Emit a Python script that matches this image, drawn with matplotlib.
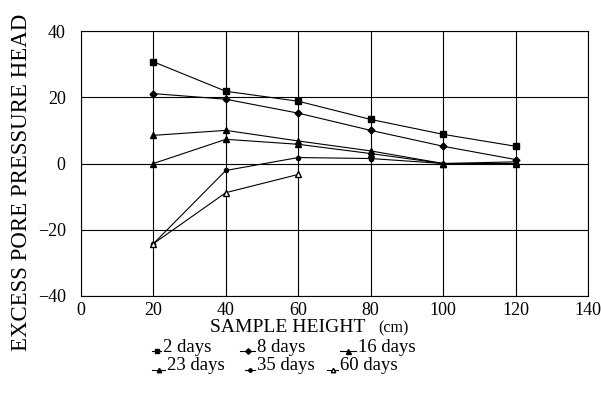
import matplotlib
matplotlib.use("Agg")
import matplotlib.pyplot as plt
from matplotlib.lines import Line2D

plt.rcParams['font.family'] = ['Liberation Serif', 'DejaVu Serif']

heights = [20, 40, 60, 80, 100, 120]
labels = ["2 days", "8 days", "16 days", "23 days", "35 days", "60 days"]
d2 = [30.7, 21.8, 18.8, 13.3, 8.8, 5.2]
d8 = [21.1, 19.4, 15.2, 10.0, 5.2, 1.2]
d16 = [8.5, 10.0, 6.8, 3.8, 0.0, 0.5]
d23 = [0.0, 7.3, 5.8, 3.0, 0.0, 0.0]
d35 = [-24.2, -2.1, 1.8, 1.5, 0.0]
d60 = [-24.2, -8.8, -3.3]

series = [d2, d8, d16, d23, d35, d60]
markers = ['s', 'D', '^', '^', 'o', '^']
sizes = [4, 3.5, 4.5, 4, 3, 4]
fills = ['black', 'black', 'black', 'black', 'black', 'white']

W, H = 601, 396
fig = plt.figure(figsize=(W / 100, H / 100), dpi=100)
ax = fig.add_axes([81 / W, 1 - 296 / H, (588 - 81) / W, (296 - 31) / H])
for vals, lab, m, s, fc in zip(series, labels, markers, sizes, fills):
    ax.plot(heights[:len(vals)], vals, color='black', lw=0.8, marker=m,
            markersize=s, markerfacecolor=fc, label=lab)

ax.set_xlim(0, 140)
ax.set_ylim(-40, 40)
ax.set_xticks(range(0, 141, 20))
ax.set_yticks(range(-40, 41, 20))
ax.grid(True, color='black', lw=0.8)
ax.tick_params(length=0, labelsize=13)
ax.tick_params(axis='y', pad=11)
ax.tick_params(axis='x', pad=4)
for sp in ax.spines.values():
    sp.set_linewidth(0.8)

# axis titles
fig.text(22 / W, 1 - 182 / H, "EXCESS PORE PRESSURE HEAD", rotation=90,
         ha='center', va='center', fontsize=16.5)
fig.text(210 / W, 1 - 327 / H, "SAMPLE HEIGHT", ha='left', va='center',
         fontsize=14)
fig.text(378 / W, 1 - 328 / H, "(cm)", ha='left', va='center', fontsize=11.5)

# legend laid out like the original (row-wise, short handles)
handle_x = [152, 240, 340, 152, 245, 327]
text_x = [163, 257, 358, 167, 257, 340]
row_y = [347, 366]
for i, (lab, m, s, fc) in enumerate(zip(labels, markers, sizes, fills)):
    ty = row_y[i // 3]
    hy = ty + 4
    x0, x1 = handle_x[i], text_x[i] - 2
    fig.add_artist(Line2D([x0 / W, x1 / W], [1 - hy / H, 1 - hy / H],
                          transform=fig.transFigure, color='black', lw=0.8))
    fig.add_artist(Line2D([(x0 + x1) / 2 / W], [1 - hy / H],
                          transform=fig.transFigure, color='black',
                          marker=m, markersize=s * 0.8, markerfacecolor=fc))
    fig.text(text_x[i] / W, 1 - ty / H, lab, ha='left', va='center',
             fontsize=13.5)

fig.savefig("out.png", dpi=100)
